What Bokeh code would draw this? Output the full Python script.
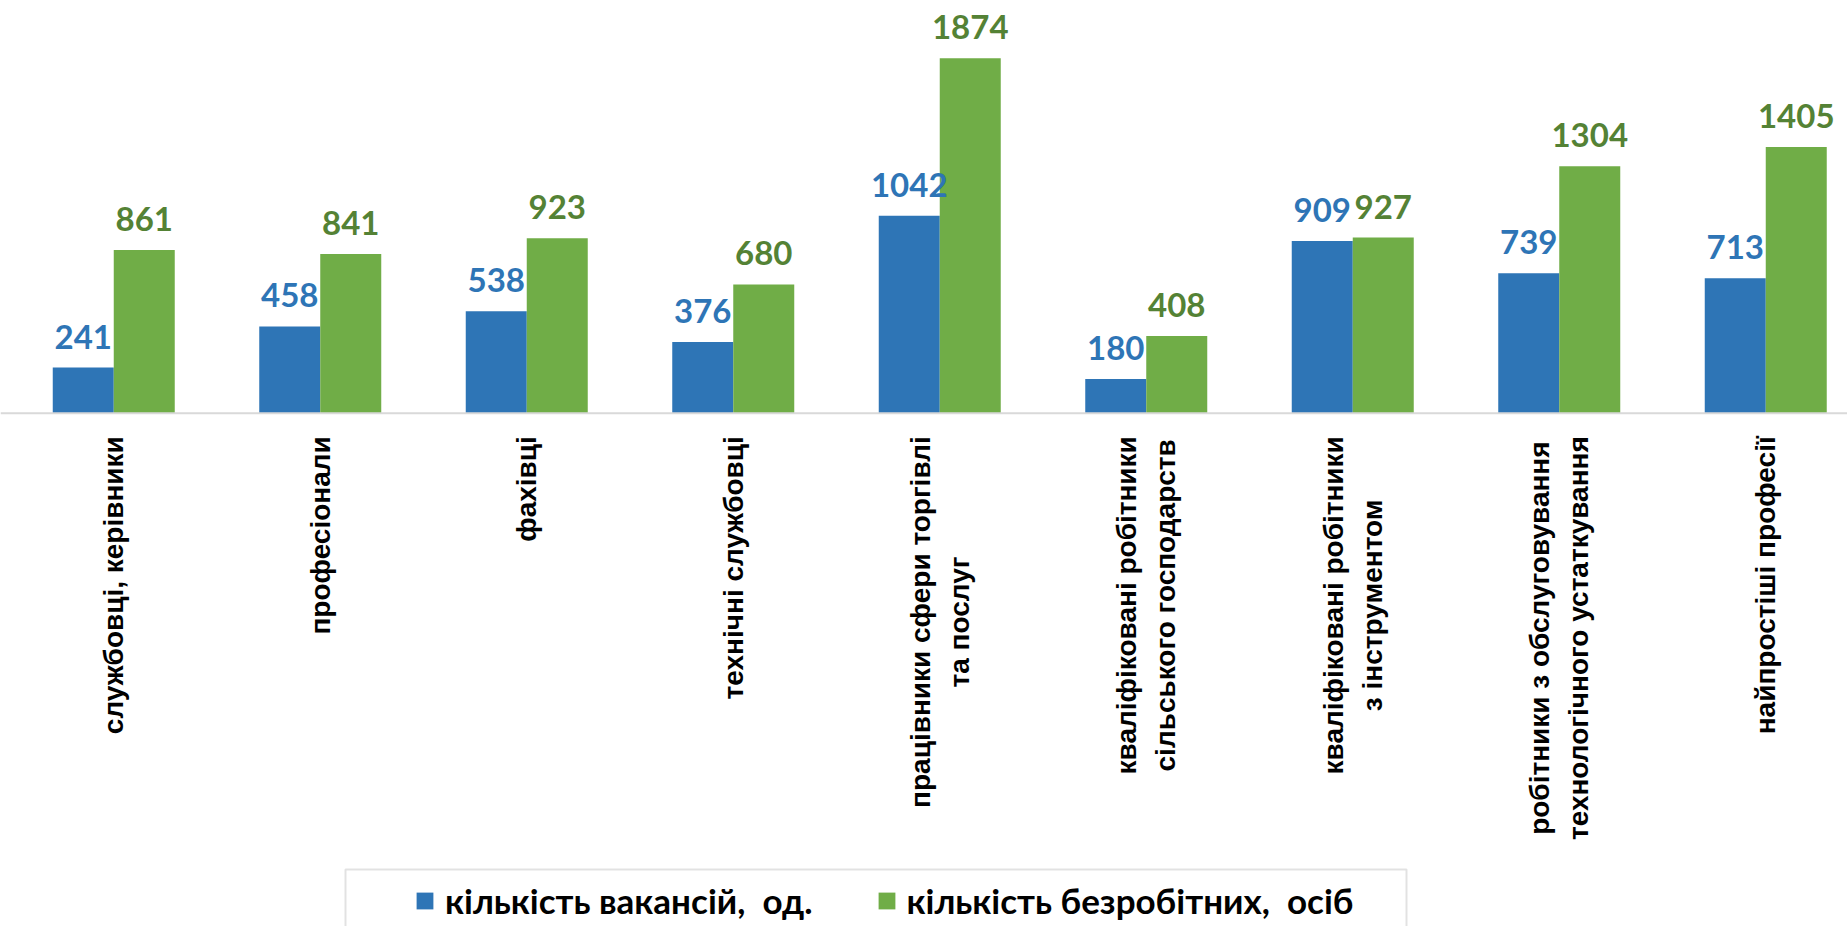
import numpy as np
from bokeh.plotting import figure
from bokeh.models import Range1d, ColumnDataSource, Legend, LegendItem, Span, BoxAnnotation
from bokeh.core.properties import value
from bokeh.embed import file_html
from bokeh.resources import INLINE

# ---- data ----
categories = [
    "службовці, керівники",
    "професіонали",
    "фахівці",
    "технічні службовці",
    "працівники сфери торгівлі\nта послуг",
    "кваліфіковані робітники\nсільського господарств",
    "кваліфіковані робітники\nз інструментом",
    "робітники з обслуговування\nтехнологічного устаткування",
    "найпростіші професії",
]
vacancies = [241, 458, 538, 376, 1042, 180, 909, 739, 713]
unemployed = [861, 841, 923, 680, 1874, 408, 927, 1304, 1405]
series_names = ["кількість вакансій,  од.", "кількість безробітних,  осіб"]

BLUE = "#2E75B6"
GREEN = "#70AD47"
BLUE_TXT = "#2E75B6"
GREEN_TXT = "#548235"

n = len(categories)
centers = np.arange(n) + 0.5
cat_px = 206.5
bw = 61 / cat_px

W, H = 1847, 926
px_per_unit = 355 / 1874.0
axis_y = 412.7
y_top = axis_y / px_per_unit
y_bot = -(H - axis_y) / px_per_unit
x_start = -10 / cat_px
x_end = x_start + W / cat_px

p = figure(width=W, height=H, x_range=Range1d(x_start, x_end), y_range=Range1d(y_bot, y_top),
           output_backend="svg", toolbar_location=None,
           x_axis_location=None, y_axis_location=None,
           min_border_left=0, min_border_right=0, min_border_top=0, min_border_bottom=0)
p.grid.visible = False
p.outline_line_color = None
p.background_fill_color = "white"

src = ColumnDataSource(dict(
    xb=centers - bw / 2, xg=centers + bw / 2, vac=vacancies, unemp=unemployed,
    vac_lbl=[str(v) for v in vacancies], unemp_lbl=[str(v) for v in unemployed],
    xc=centers, cat=categories, zero=[0] * n,
))

rb = p.vbar(x="xb", top="vac", bottom=0, width=bw, source=src, fill_color=BLUE, line_color=None)
rg = p.vbar(x="xg", top="unemp", bottom=0, width=bw, source=src, fill_color=GREEN, line_color=None)

p.add_layout(Span(location=0, dimension="width", line_color="#D9D9D9", line_width=2))

# data labels
p.text(x="xb", y="vac", text="vac_lbl", source=src, text_align="center", text_baseline="alphabetic",
       y_offset=-31, text_font=value("Lato"), text_font_style="bold", text_font_size="33px",
       text_color=BLUE_TXT)
p.text(x="xg", y="unemp", text="unemp_lbl", source=src, text_align="center", text_baseline="alphabetic",
       y_offset=-31, text_font=value("Lato"), text_font_style="bold", text_font_size="33px",
       text_color=GREEN_TXT)

# category labels (rotated)
p.text(x="xc", y="zero", text="cat", source=src, angle=np.pi / 2, anchor="center_right",
       text_align="center", y_offset=23, text_font=value("Liberation Sans"), text_font_style="bold",
       text_font_size="28px", text_color="black", text_line_height=1.25)

legend = Legend(items=[LegendItem(label=series_names[0], renderers=[rb]),
                       LegendItem(label=series_names[1], renderers=[rg])],
                orientation="horizontal", location=(414, 5),
                glyph_width=21, glyph_height=21, label_standoff=10, padding=10, spacing=63,
                border_line_color=None, background_fill_alpha=0,
                label_text_font="Lato", label_text_font_style="bold", label_text_font_size="35px",
                label_text_color="black")
p.add_layout(legend)

p.add_layout(BoxAnnotation(left=345, right=1406, top=57, bottom=-30,
                           left_units="screen", right_units="screen", top_units="screen", bottom_units="screen",
                           fill_alpha=0, line_color="#A0A0A0", line_width=2))

open("out.html", "w").write(file_html(p, INLINE))
